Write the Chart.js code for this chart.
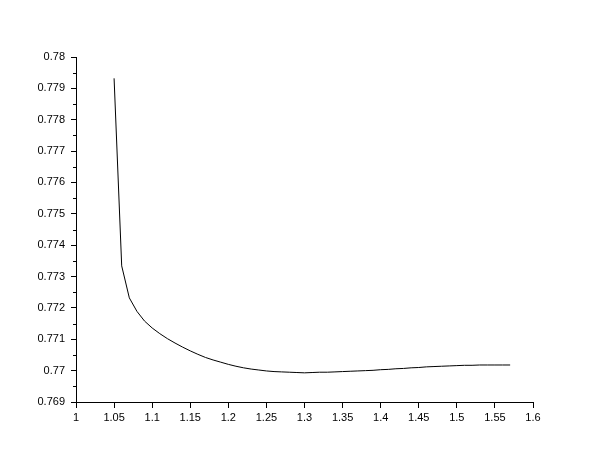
<!DOCTYPE html>
<html>
<head>
<meta charset="utf-8">
<script src="https://cdn.jsdelivr.net/npm/chart.js@4.4.1/dist/chart.umd.min.js"></script>
<style>
  html, body { margin: 0; padding: 0; background: #fff; }
</style>
</head>
<body>
<canvas id="lineChart" width="610" height="460"></canvas>
<script>
// data
const xValues = [
  1.05, 1.06, 1.07, 1.08, 1.09, 1.10, 1.11, 1.12, 1.13, 1.14,
  1.15, 1.16, 1.17, 1.18, 1.19, 1.20, 1.21, 1.22, 1.23, 1.24,
  1.25, 1.26, 1.27, 1.28, 1.29, 1.30, 1.31, 1.32, 1.33, 1.34,
  1.35, 1.36, 1.37, 1.38, 1.39, 1.40, 1.41, 1.42, 1.43, 1.44,
  1.45, 1.46, 1.47, 1.48, 1.49, 1.50, 1.51, 1.52, 1.53, 1.54,
  1.55, 1.56, 1.57
];
const yValues = [
  0.77932, 0.77334, 0.77232, 0.77189, 0.77158, 0.77136, 0.77118, 0.77102, 0.77088, 0.77075,
  0.77063, 0.77052, 0.77042, 0.77034, 0.77027, 0.77020, 0.77014, 0.77009, 0.77005, 0.77002,
  0.76999, 0.76997, 0.76996, 0.76995, 0.76994, 0.76993, 0.76994, 0.76995, 0.76995, 0.76996,
  0.76997, 0.76998, 0.76999, 0.77000, 0.77001, 0.77003, 0.77004, 0.77006, 0.77007, 0.77009,
  0.77010, 0.77012, 0.77013, 0.77014, 0.77015, 0.77016, 0.77017, 0.77017, 0.77018, 0.77018,
  0.77018, 0.77018, 0.77018
];
const xAxis = { min: 1, max: 1.6, step: 0.05 };
const yAxis = { min: 0.769, max: 0.78, step: 0.001 };

const fmt = (v) => String(parseFloat(v.toFixed(4)));

// minor ticks on the y axis, halfway between labels
const minorTicks = {
  id: 'minorTicks',
  afterDraw(chart) {
    const y = chart.scales.y;
    const ctx = chart.ctx;
    ctx.save();
    ctx.strokeStyle = '#000';
    ctx.lineWidth = 1;
    ctx.beginPath();
    for (let v = yAxis.min + yAxis.step / 2; v < yAxis.max; v += yAxis.step) {
      const py = Math.round(y.getPixelForValue(v)) + 0.5;
      ctx.moveTo(y.right - 3, py);
      ctx.lineTo(y.right, py);
    }
    ctx.stroke();
    ctx.restore();
  }
};

const ctx = document.getElementById('lineChart').getContext('2d');
new Chart(ctx, {
  type: 'line',
  data: {
    datasets: [{
      data: xValues.map((x, i) => ({ x, y: yValues[i] })),
      borderColor: '#000',
      borderWidth: 1,
      pointRadius: 0,
      tension: 0,
      fill: false
    }]
  },
  options: {
    responsive: false,
    animation: false,
    devicePixelRatio: 1,
    layout: { padding: { left: 0, top: 57, right: 77, bottom: 0 } },
    plugins: {
      legend: { display: false },
      tooltip: { enabled: false }
    },
    scales: {
      x: {
        type: 'linear',
        min: xAxis.min,
        max: xAxis.max,
        afterFit(scale) { scale.height = 58; },
        border: { display: true, color: '#000', width: 1 },
        grid: { drawOnChartArea: false, drawTicks: true, tickLength: 6, color: '#000' },
        ticks: {
          stepSize: xAxis.step,
          autoSkip: false,
          maxTicksLimit: 100,
          maxRotation: 0,
          padding: 3,
          color: '#000',
          font: { family: 'Liberation Sans', size: 11 },
          callback: (v) => fmt(v)
        }
      },
      y: {
        type: 'linear',
        min: yAxis.min,
        max: yAxis.max,
        afterFit(scale) { scale.width = 76; },
        border: { display: true, color: '#000', width: 1 },
        grid: { drawOnChartArea: false, drawTicks: true, tickLength: 5, color: '#000' },
        ticks: {
          stepSize: yAxis.step,
          autoSkip: false,
          maxTicksLimit: 100,
          padding: 6,
          color: '#000',
          font: { family: 'Liberation Sans', size: 11 },
          callback: (v) => fmt(v)
        }
      }
    }
  },
  plugins: [minorTicks]
});
</script>
</body>
</html>
